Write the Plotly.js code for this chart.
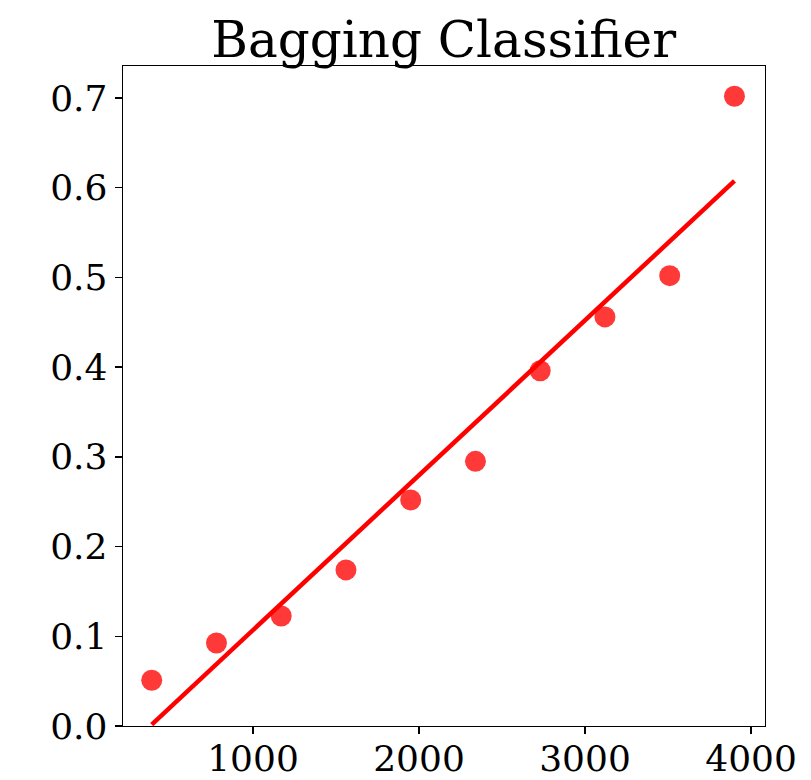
<!DOCTYPE html>
<html>
<head>
<meta charset="utf-8">
<script src="https://cdn.plot.ly/plotly-3.0.1.min.js"></script>
<style>
  html, body { margin: 0; padding: 0; background: #fff; }
  #chart { width: 811px; height: 780px; }
</style>
</head>
<body>
<div id="chart"></div>
<script>
// Sample sizes and scores
const sampleSizes = [390, 780, 1170, 1560, 1950, 2340, 2730, 3120, 3510, 3900];
const scores = [0.051, 0.0925, 0.1226, 0.174, 0.252, 0.295, 0.396, 0.456, 0.502, 0.702];

// Linear trend endpoints
const trendX = [390, 3900];
const trendY = [0.0016, 0.6076];

// Axis ticks
const xTicks = [1000, 2000, 3000, 4000];
const yTicks = [0.0, 0.1, 0.2, 0.3, 0.4, 0.5, 0.6, 0.7];

const serif = 'DejaVu Serif, serif';

const traces = [
  {
    x: sampleSizes,
    y: scores,
    mode: 'markers',
    type: 'scatter',
    marker: { color: 'rgba(255,0,0,0.78)', size: 21, line: { width: 0 } },
    cliponaxis: false,
    hoverinfo: 'x+y'
  },
  {
    x: trendX,
    y: trendY,
    mode: 'lines',
    type: 'scatter',
    line: { color: '#ff0000', width: 4.5 },
    hoverinfo: 'x+y'
  }
];

const layout = {
  width: 811,
  height: 780,
  margin: { l: 123, r: 46, t: 66, b: 54 },
  paper_bgcolor: '#ffffff',
  plot_bgcolor: '#ffffff',
  showlegend: false,
  title: {
    text: 'Bagging Classifier',
    font: { family: serif, size: 50, color: '#000' },
    x: 0.547,
    xanchor: 'center',
    yref: 'container',
    y: 0.949,
    yanchor: 'middle'
  },
  xaxis: {
    range: [217, 4084],
    tickvals: xTicks,
    ticktext: xTicks.map(String),
    showgrid: false,
    zeroline: false,
    showline: true,
    mirror: true,
    linecolor: '#000',
    linewidth: 1.4,
    ticks: 'outside',
    ticklen: 7,
    tickwidth: 1.4,
    tickcolor: '#000',
    ticklabelstandoff: -7,
    tickfont: { family: serif, size: 36, color: '#000' }
  },
  yaxis: {
    range: [0, 0.7357],
    tickvals: yTicks,
    ticktext: yTicks.map(v => v.toFixed(1)),
    showgrid: false,
    zeroline: false,
    showline: true,
    mirror: true,
    linecolor: '#000',
    linewidth: 1.4,
    ticks: 'outside',
    ticklen: 7,
    tickwidth: 1.4,
    tickcolor: '#000',
    tickfont: { family: serif, size: 36, color: '#000' }
  }
};

Plotly.newPlot('chart', traces, layout, { displayModeBar: false, staticPlot: true });
</script>
</body>
</html>
